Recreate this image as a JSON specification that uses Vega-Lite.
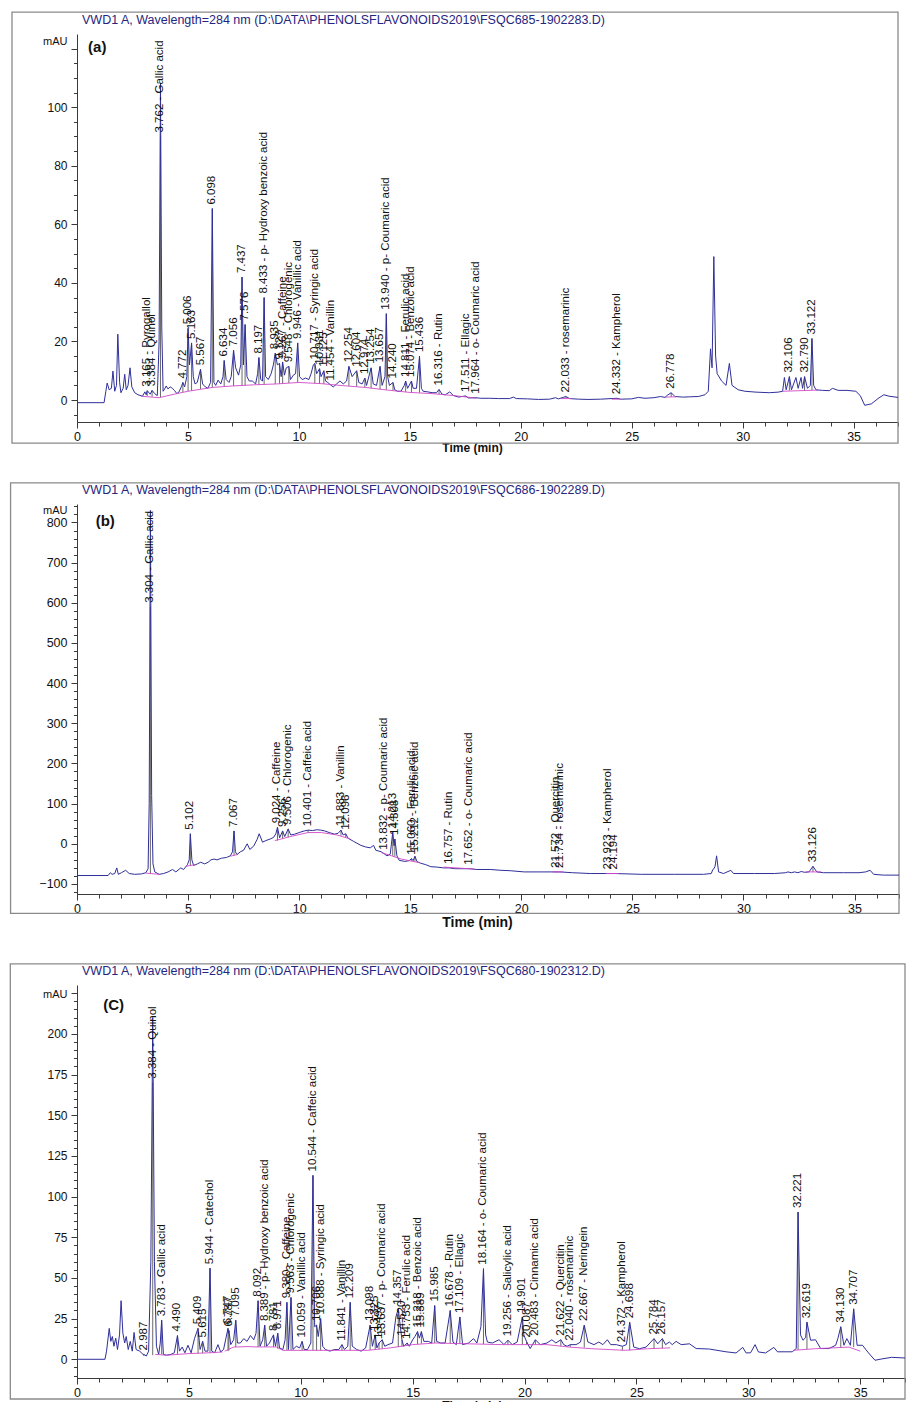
{
"$schema": "https://vega.github.io/schema/vega-lite/v6.json",
"background": "white",
"padding": {"top": 11, "left": 9, "right": 0, "bottom": 0},
"config": {"font": "Liberation Sans", "view": {"stroke": null},
  "axis": {"domainColor": "#3a3a3a", "tickColor": "#3a3a3a", "labelColor": "#111", "titleColor": "#111", "grid": false, "labelFont": "Liberation Sans", "titleFont": "Liberation Sans", "labelOverlap": false, "labelFlush": false}},
"datasets": {
"frameA": [{"x1": -2.93, "x2": 37, "y1": -14.7, "y2": 132.5}],
"frameB": [{"x1": -2.99, "x2": 37, "y1": -173.4, "y2": 898.8}],
"frameC": [{"x1": -2.98, "x2": 37, "y1": -24.4, "y2": 243}],
"traceA": [
{"t":0,"v":-0.9},{"t":1.22,"v":-0.9},{"t":1.3,"v":3},{"t":1.36,"v":5.8},{"t":1.45,"v":3.5},{"t":1.55,"v":4},{"t":1.62,"v":9.9},{"t":1.7,"v":3},{"t":1.78,"v":5},{"t":1.84,"v":22.5},{"t":1.92,"v":6},{"t":1.98,"v":2.5},{"t":2.08,"v":4},{"t":2.15,"v":8.8},{"t":2.22,"v":3.5},{"t":2.3,"v":5},{"t":2.39,"v":11},{"t":2.47,"v":4.5},{"t":2.6,"v":2.5},{"t":2.75,"v":1.8},{"t":2.95,"v":1.3},{"t":3.06,"v":2.8},{"t":3.12,"v":1.8},{"t":3.165,"v":3.2},{"t":3.3,"v":2},{"t":3.384,"v":3.3},{"t":3.5,"v":2.2},{"t":3.62,"v":1.5},{"t":3.7,"v":20},{"t":3.762,"v":108},{"t":3.82,"v":25},{"t":3.88,"v":3},{"t":3.95,"v":3.8},{"t":4.02,"v":4.8},{"t":4.1,"v":3.8},{"t":4.2,"v":4.5},{"t":4.3,"v":4},{"t":4.4,"v":3.2},{"t":4.5,"v":2.2},{"t":4.6,"v":2.8},{"t":4.7,"v":4.5},{"t":4.772,"v":6},{"t":4.85,"v":4.5},{"t":4.95,"v":8},{"t":5.006,"v":24.5},{"t":5.07,"v":12},{"t":5.163,"v":19.5},{"t":5.24,"v":8},{"t":5.32,"v":5.5},{"t":5.42,"v":6},{"t":5.567,"v":10.5},{"t":5.66,"v":5.5},{"t":5.78,"v":4.5},{"t":5.9,"v":4},{"t":6.02,"v":6},{"t":6.098,"v":65.4},{"t":6.17,"v":6},{"t":6.25,"v":5},{"t":6.36,"v":6.8},{"t":6.48,"v":5.5},{"t":6.58,"v":8},{"t":6.634,"v":13.5},{"t":6.72,"v":7},{"t":6.85,"v":6},{"t":6.95,"v":8},{"t":7.056,"v":17},{"t":7.15,"v":11},{"t":7.28,"v":8.5},{"t":7.38,"v":12},{"t":7.437,"v":42},{"t":7.5,"v":12},{"t":7.576,"v":25.8},{"t":7.66,"v":8},{"t":7.76,"v":6.5},{"t":7.9,"v":6.5},{"t":8.05,"v":5.5},{"t":8.14,"v":9},{"t":8.197,"v":14.5},{"t":8.28,"v":7},{"t":8.36,"v":6.5},{"t":8.433,"v":35},{"t":8.5,"v":8},{"t":8.62,"v":7},{"t":8.75,"v":9},{"t":8.85,"v":12},{"t":8.935,"v":16},{"t":9.03,"v":12},{"t":9.127,"v":12.5},{"t":9.2,"v":8},{"t":9.267,"v":13},{"t":9.35,"v":8.5},{"t":9.43,"v":11},{"t":9.548,"v":11.5},{"t":9.62,"v":7},{"t":9.75,"v":8.5},{"t":9.85,"v":9},{"t":9.946,"v":19.5},{"t":10.03,"v":8},{"t":10.15,"v":7},{"t":10.3,"v":7.5},{"t":10.45,"v":7},{"t":10.55,"v":9},{"t":10.65,"v":12},{"t":10.717,"v":12.5},{"t":10.8,"v":9},{"t":10.931,"v":10.7},{"t":11.0,"v":8},{"t":11.125,"v":10},{"t":11.2,"v":6.5},{"t":11.3,"v":6},{"t":11.454,"v":5},{"t":11.55,"v":4.5},{"t":11.7,"v":5.5},{"t":11.85,"v":6.5},{"t":12.0,"v":5.5},{"t":12.15,"v":6.5},{"t":12.254,"v":11.5},{"t":12.4,"v":8},{"t":12.604,"v":10},{"t":12.7,"v":6},{"t":12.85,"v":5.5},{"t":12.974,"v":7.5},{"t":13.05,"v":5},{"t":13.254,"v":11},{"t":13.35,"v":5.5},{"t":13.5,"v":5},{"t":13.657,"v":11.5},{"t":13.75,"v":5},{"t":13.88,"v":8},{"t":13.94,"v":29.5},{"t":14.0,"v":8},{"t":14.08,"v":5},{"t":14.24,"v":6},{"t":14.32,"v":3.5},{"t":14.45,"v":3},{"t":14.6,"v":3},{"t":14.75,"v":5},{"t":14.811,"v":6.5},{"t":14.9,"v":4},{"t":15.074,"v":6.5},{"t":15.15,"v":4},{"t":15.3,"v":4},{"t":15.436,"v":15},{"t":15.52,"v":4},{"t":15.6,"v":3},{"t":15.8,"v":2.8},{"t":16.0,"v":2.5},{"t":16.2,"v":2.5},{"t":16.316,"v":3.6},{"t":16.45,"v":2},{"t":16.6,"v":1.8},{"t":16.8,"v":2.8},{"t":16.95,"v":1.6},{"t":17.2,"v":1},{"t":17.511,"v":1.4},{"t":17.65,"v":0.7},{"t":17.964,"v":0.8},{"t":18.2,"v":0.6},{"t":18.6,"v":0.6},{"t":19.0,"v":0.5},{"t":19.5,"v":0.5},{"t":19.66,"v":1},{"t":19.8,"v":0.5},{"t":20.3,"v":0.4},{"t":20.8,"v":0.2},{"t":21.3,"v":0.3},{"t":21.56,"v":0.8},{"t":21.7,"v":0.4},{"t":22.033,"v":1.2},{"t":22.2,"v":0.5},{"t":22.6,"v":0.3},{"t":23.07,"v":0.2},{"t":23.6,"v":0.3},{"t":24.332,"v":0.6},{"t":24.5,"v":0.3},{"t":25.0,"v":0.4},{"t":25.3,"v":0.9},{"t":25.6,"v":0.6},{"t":26.0,"v":0.8},{"t":26.3,"v":1.2},{"t":26.5,"v":0.9},{"t":26.6,"v":1.6},{"t":26.778,"v":2.5},{"t":26.95,"v":1.2},{"t":27.3,"v":1},{"t":27.6,"v":1.1},{"t":28.0,"v":1.2},{"t":28.3,"v":1.8},{"t":28.45,"v":3},{"t":28.55,"v":17.5},{"t":28.62,"v":11},{"t":28.7,"v":49},{"t":28.78,"v":15},{"t":28.85,"v":9},{"t":29.05,"v":6.5},{"t":29.25,"v":5},{"t":29.4,"v":12.5},{"t":29.52,"v":5},{"t":29.8,"v":3.5},{"t":30.1,"v":3},{"t":30.6,"v":2.7},{"t":31.2,"v":2.5},{"t":31.6,"v":2.7},{"t":31.8,"v":3},{"t":31.88,"v":7.7},{"t":31.96,"v":3.5},{"t":32.106,"v":8},{"t":32.2,"v":3.5},{"t":32.4,"v":7.7},{"t":32.5,"v":4},{"t":32.63,"v":7.7},{"t":32.7,"v":4},{"t":32.79,"v":8},{"t":32.92,"v":4},{"t":33.05,"v":5},{"t":33.122,"v":21},{"t":33.2,"v":5},{"t":33.3,"v":3.5},{"t":33.6,"v":3.3},{"t":33.9,"v":3.2},{"t":34.05,"v":4},{"t":34.3,"v":3.3},{"t":34.7,"v":3.3},{"t":35.1,"v":3},{"t":35.3,"v":1.5},{"t":35.5,"v":-1.8},{"t":35.8,"v":-1.3},{"t":36.1,"v":0.5},{"t":36.36,"v":1.8},{"t":36.6,"v":1.3},{"t":37.0,"v":0.9}
],
"baseA": [
{"seg":1,"t":2.9,"v":1.3},{"seg":1,"t":3.7,"v":0.8},
{"seg":2,"t":3.7,"v":0.8},{"seg":2,"t":4.5,"v":2.2},{"seg":2,"t":5.0,"v":3.0},{"seg":2,"t":6.1,"v":4.3},{"seg":2,"t":7.0,"v":4.8},{"seg":2,"t":8.0,"v":5.2},{"seg":2,"t":9.0,"v":5.5},{"seg":2,"t":10.0,"v":6.0},{"seg":2,"t":11.0,"v":5.6},{"seg":2,"t":12.0,"v":4.9},{"seg":2,"t":13.0,"v":4.3},{"seg":2,"t":14.0,"v":3.4},{"seg":2,"t":15.0,"v":2.6},{"seg":2,"t":16.0,"v":2.2},{"seg":2,"t":17.0,"v":1.5},{"seg":2,"t":17.6,"v":1.0},{"seg":2,"t":18.0,"v":0.6},
{"seg":3,"t":21.8,"v":0.5},{"seg":3,"t":22.3,"v":0.5},
{"seg":4,"t":24.1,"v":0.3},{"seg":4,"t":24.5,"v":0.3},
{"seg":5,"t":26.5,"v":1.0},{"seg":5,"t":27.0,"v":1.1},
{"seg":6,"t":31.8,"v":3.0},{"seg":6,"t":33.4,"v":3.4}
],
"labA": [
{"t":3.165,"y":3.2,"b":1.4,"text":"3.165 -  Pyrogallol"},
{"t":3.384,"y":3.3,"b":1.2,"text":"3.384 -  Quinol"},
{"t":3.762,"y":90,"b":1.0,"text":"3.762 -  Gallic acid"},
{"t":4.772,"y":6,"b":2.7,"text":"4.772"},
{"t":5.006,"y":24.5,"b":3.0,"text":"5.006"},
{"t":5.163,"y":19.5,"b":3.2,"text":"5.163"},
{"t":5.567,"y":10.5,"b":3.8,"text":"5.567"},
{"t":6.098,"y":65.4,"b":4.3,"text":"6.098"},
{"t":6.634,"y":13.5,"b":4.6,"text":"6.634"},
{"t":7.056,"y":17,"b":4.8,"text":"7.056"},
{"t":7.437,"y":42,"b":5,"text":"7.437"},
{"t":7.576,"y":25.8,"b":5,"text":"7.576"},
{"t":8.197,"y":14.5,"b":5.2,"text":"8.197"},
{"t":8.433,"y":35,"b":5.3,"text":"8.433 -  p- Hydroxy benzoic acid"},
{"t":8.935,"y":16,"b":5.5,"text":"8.935"},
{"t":9.127,"y":12.5,"b":5.6,"text":"9.127"},
{"t":9.267,"y":13,"b":5.7,"text":"9.267 -  Caffeine"},
{"t":9.548,"y":11.5,"b":5.8,"text":"9.548 -  Chlorogenic"},
{"t":9.946,"y":19.5,"b":6,"text":"9.946 -  Vanillic acid"},
{"t":10.717,"y":12.5,"b":5.7,"text":"10.717 -  Syringic acid"},
{"t":10.931,"y":10.7,"b":5.6,"text":"10.931"},
{"t":11.125,"y":10,"b":5.5,"text":"11.125"},
{"t":11.454,"y":5.3,"b":5.3,"text":"11.454 -  Vanillin"},
{"t":12.254,"y":11.5,"b":4.8,"text":"12.254"},
{"t":12.604,"y":10,"b":4.6,"text":"12.604"},
{"t":12.974,"y":7.5,"b":4.3,"text":"12.974"},
{"t":13.254,"y":11,"b":4,"text":"13.254"},
{"t":13.657,"y":11.5,"b":3.7,"text":"13.657"},
{"t":13.94,"y":29.5,"b":3.5,"text":"13.940 -  p- Coumaric acid"},
{"t":14.24,"y":6,"b":3.2,"text":"14.240"},
{"t":14.811,"y":6.5,"b":2.8,"text":"14.811 -  Ferulic acid"},
{"t":15.074,"y":6.5,"b":2.6,"text":"15.074 -  Benzoic acid"},
{"t":15.436,"y":15,"b":2.5,"text":"15.436"},
{"t":16.316,"y":3.6,"b":2,"text":"16.316 -  Rutin"},
{"t":17.511,"y":1.4,"b":1.1,"text":"17.511 -  Ellagic"},
{"t":17.964,"y":0.8,"b":0.6,"text":"17.964 -  o- Coumaric acid"},
{"t":22.033,"y":1.2,"b":0.5,"text":"22.033 -  rosemarinic"},
{"t":24.332,"y":0.6,"b":0.3,"text":"24.332 -  Kampherol"},
{"t":26.778,"y":2.5,"b":1.1,"text":"26.778"},
{"t":32.106,"y":8,"b":3.2,"text":"32.106"},
{"t":32.79,"y":8,"b":3.3,"text":"32.790"},
{"t":33.122,"y":21,"b":3.4,"text":"33.122"}
],
"tagA": [{"t":0.5,"y":120.5,"text":"(a)"}],
"traceB": [
{"t":0,"v":-79},{"t":1.4,"v":-79},{"t":1.5,"v":-72},{"t":1.58,"v":-76},{"t":1.7,"v":-74},{"t":1.79,"v":-60},{"t":1.86,"v":-76},{"t":2.0,"v":-72},{"t":2.19,"v":-66},{"t":2.35,"v":-74},{"t":2.6,"v":-76},{"t":2.9,"v":-75},{"t":3.1,"v":-72},{"t":3.2,"v":-62},{"t":3.25,"v":100},{"t":3.304,"v":830},{"t":3.36,"v":120},{"t":3.42,"v":-50},{"t":3.5,"v":-70},{"t":3.7,"v":-76},{"t":3.9,"v":-74},{"t":4.1,"v":-70},{"t":4.3,"v":-64},{"t":4.45,"v":-70},{"t":4.67,"v":-60},{"t":4.8,"v":-64},{"t":4.97,"v":-52},{"t":5.05,"v":-40},{"t":5.102,"v":25},{"t":5.17,"v":-40},{"t":5.25,"v":-54},{"t":5.42,"v":-50},{"t":5.57,"v":-46},{"t":5.75,"v":-50},{"t":5.9,"v":-46},{"t":6.03,"v":-40},{"t":6.17,"v":-38},{"t":6.3,"v":-40},{"t":6.5,"v":-36},{"t":6.73,"v":-34},{"t":6.9,"v":-30},{"t":7.0,"v":-20},{"t":7.067,"v":32},{"t":7.13,"v":-20},{"t":7.2,"v":-27},{"t":7.35,"v":-20},{"t":7.5,"v":-16},{"t":7.66,"v":0},{"t":7.78,"v":-14},{"t":7.95,"v":-6},{"t":8.1,"v":10},{"t":8.2,"v":25},{"t":8.35,"v":4},{"t":8.5,"v":8},{"t":8.7,"v":12},{"t":8.85,"v":16},{"t":8.95,"v":25},{"t":9.024,"v":41},{"t":9.12,"v":15},{"t":9.256,"v":32},{"t":9.35,"v":18},{"t":9.506,"v":37},{"t":9.62,"v":22},{"t":9.8,"v":24},{"t":10.0,"v":28},{"t":10.23,"v":32},{"t":10.401,"v":34},{"t":10.6,"v":33},{"t":10.8,"v":35},{"t":10.97,"v":34},{"t":11.15,"v":32},{"t":11.35,"v":28},{"t":11.6,"v":24},{"t":11.75,"v":26},{"t":11.883,"v":34},{"t":11.98,"v":22},{"t":12.096,"v":25},{"t":12.2,"v":14},{"t":12.45,"v":6},{"t":12.78,"v":-4},{"t":13.0,"v":-8},{"t":13.2,"v":-10},{"t":13.35,"v":-4},{"t":13.45,"v":-16},{"t":13.7,"v":-20},{"t":13.832,"v":-25},{"t":13.95,"v":-30},{"t":14.1,"v":-26},{"t":14.213,"v":29},{"t":14.27,"v":-5},{"t":14.308,"v":12},{"t":14.4,"v":-30},{"t":14.5,"v":-41},{"t":14.75,"v":-44},{"t":14.95,"v":-42},{"t":15.06,"v":-37},{"t":15.13,"v":-42},{"t":15.212,"v":-31},{"t":15.3,"v":-44},{"t":15.45,"v":-48},{"t":15.7,"v":-52},{"t":15.93,"v":-57},{"t":16.2,"v":-58},{"t":16.5,"v":-60},{"t":16.757,"v":-60},{"t":17.0,"v":-62},{"t":17.3,"v":-62},{"t":17.652,"v":-62},{"t":18.0,"v":-64},{"t":18.6,"v":-64},{"t":19.08,"v":-66},{"t":19.5,"v":-67},{"t":20.13,"v":-70},{"t":20.8,"v":-70},{"t":21.572,"v":-70},{"t":21.734,"v":-70},{"t":22.3,"v":-72},{"t":23.1,"v":-74},{"t":23.923,"v":-74},{"t":24.194,"v":-74},{"t":25.4,"v":-76},{"t":26.9,"v":-76},{"t":28.2,"v":-76},{"t":28.55,"v":-74},{"t":28.62,"v":-64},{"t":28.67,"v":-62},{"t":28.72,"v":-56},{"t":28.79,"v":-30},{"t":28.88,"v":-70},{"t":29.1,"v":-74},{"t":29.35,"v":-68},{"t":29.43,"v":-66},{"t":29.55,"v":-74},{"t":30.5,"v":-74},{"t":31.4,"v":-74},{"t":31.9,"v":-72},{"t":32.0,"v":-70},{"t":32.15,"v":-72},{"t":32.3,"v":-70},{"t":32.45,"v":-72},{"t":32.6,"v":-69},{"t":32.75,"v":-71},{"t":32.95,"v":-70},{"t":33.126,"v":-56},{"t":33.3,"v":-70},{"t":33.6,"v":-72},{"t":34.5,"v":-72},{"t":35.2,"v":-72},{"t":35.5,"v":-70},{"t":35.7,"v":-66},{"t":35.86,"v":-76},{"t":36.3,"v":-78},{"t":37.0,"v":-78}
],
"baseB": [
{"seg":1,"t":3.1,"v":-73},{"seg":1,"t":3.7,"v":-76},
{"seg":2,"t":4.9,"v":-56},{"seg":2,"t":5.3,"v":-52},
{"seg":3,"t":6.9,"v":-31},{"seg":3,"t":7.2,"v":-27},
{"seg":4,"t":8.9,"v":8},{"seg":4,"t":9.2,"v":12},{"seg":4,"t":9.6,"v":18},{"seg":4,"t":10.4,"v":28},{"seg":4,"t":11.0,"v":28},{"seg":4,"t":11.7,"v":22},{"seg":4,"t":12.3,"v":12},
{"seg":5,"t":13.7,"v":-22},{"seg":5,"t":14.0,"v":-27},{"seg":5,"t":14.6,"v":-38},{"seg":5,"t":15.4,"v":-47},
{"seg":6,"t":16.5,"v":-58},{"seg":6,"t":17.9,"v":-63},
{"seg":7,"t":21.4,"v":-70},{"seg":7,"t":21.9,"v":-70},
{"seg":8,"t":23.8,"v":-74},{"seg":8,"t":24.4,"v":-74},
{"seg":9,"t":32.8,"v":-70},{"seg":9,"t":33.5,"v":-70}
],
"labB": [
{"t":3.304,"y":590,"b":-75,"text":"3.304 -  Gallic acid"},
{"t":5.102,"y":25,"b":-54,"text":"5.102"},
{"t":7.067,"y":32,"b":-29,"text":"7.067"},
{"t":9.024,"y":41,"b":8,"text":"9.024 -  Caffeine"},
{"t":9.256,"y":32,"b":12,"text":"9.256"},
{"t":9.506,"y":37,"b":16,"text":"9.506 -  Chlorogenic"},
{"t":10.401,"y":34,"b":28,"text":"10.401 -  Caffeic acid"},
{"t":11.883,"y":34,"b":20,"text":"11.883 -  Vanillin"},
{"t":12.096,"y":25,"b":16,"text":"12.096"},
{"t":13.832,"y":-25,"b":-24,"text":"13.832 -  p- Coumaric acid"},
{"t":14.213,"y":29,"b":-30,"text":"14.213"},
{"t":14.308,"y":12,"b":-32,"text":"14.308"},
{"t":15.06,"y":-37,"b":-42,"text":"15.060 -  Ferulic acid"},
{"t":15.212,"y":-31,"b":-44,"text":"15.212 -  Benzoic acid"},
{"t":16.757,"y":-60,"b":-60,"text":"16.757 -  Rutin"},
{"t":17.652,"y":-62,"b":-63,"text":"17.652 -  o- Coumaric acid"},
{"t":21.572,"y":-70,"b":-71,"text":"21.572 -  Quercitin"},
{"t":21.734,"y":-70,"b":-71,"text":"21.734 -  rosemarinic"},
{"t":23.923,"y":-74,"b":-75,"text":"23.923 -  Kampherol"},
{"t":24.194,"y":-74,"b":-75,"text":"24.194"},
{"t":33.126,"y":-56,"b":-70,"text":"33.126"}
],
"tagB": [{"t":0.84,"y":804,"text":"(b)"}],
"traceC": [
{"t":0,"v":0},{"t":1.25,"v":0},{"t":1.32,"v":5},{"t":1.44,"v":19},{"t":1.51,"v":11},{"t":1.58,"v":14},{"t":1.65,"v":8},{"t":1.73,"v":13},{"t":1.81,"v":6},{"t":1.9,"v":15},{"t":1.97,"v":36},{"t":2.05,"v":16},{"t":2.13,"v":10},{"t":2.2,"v":14},{"t":2.29,"v":6},{"t":2.38,"v":11},{"t":2.47,"v":5},{"t":2.55,"v":16.5},{"t":2.64,"v":6},{"t":2.8,"v":5},{"t":2.95,"v":3},{"t":2.987,"v":3},{"t":3.1,"v":2},{"t":3.2,"v":5},{"t":3.3,"v":60},{"t":3.384,"v":210},{"t":3.46,"v":60},{"t":3.55,"v":8},{"t":3.65,"v":3},{"t":3.72,"v":10},{"t":3.783,"v":24},{"t":3.86,"v":3},{"t":4.0,"v":2.5},{"t":4.2,"v":3},{"t":4.35,"v":4},{"t":4.49,"v":14.6},{"t":4.58,"v":5},{"t":4.7,"v":7.5},{"t":4.82,"v":4},{"t":4.96,"v":8.6},{"t":5.1,"v":4},{"t":5.25,"v":12.7},{"t":5.409,"v":19},{"t":5.5,"v":6},{"t":5.615,"v":11},{"t":5.72,"v":5},{"t":5.85,"v":5},{"t":5.944,"v":56},{"t":6.02,"v":5},{"t":6.15,"v":4},{"t":6.3,"v":9},{"t":6.42,"v":4.5},{"t":6.55,"v":6},{"t":6.747,"v":19},{"t":6.77,"v":16},{"t":6.787,"v":17.7},{"t":6.87,"v":9},{"t":7.0,"v":12},{"t":7.095,"v":24},{"t":7.17,"v":10},{"t":7.3,"v":10},{"t":7.45,"v":12.7},{"t":7.6,"v":11},{"t":7.75,"v":14.6},{"t":7.9,"v":12},{"t":8.0,"v":16},{"t":8.092,"v":36},{"t":8.18,"v":8},{"t":8.3,"v":12},{"t":8.389,"v":21},{"t":8.47,"v":8},{"t":8.6,"v":10},{"t":8.781,"v":15},{"t":8.87,"v":8},{"t":8.971,"v":16},{"t":9.05,"v":7},{"t":9.2,"v":6},{"t":9.3,"v":12},{"t":9.38,"v":35},{"t":9.45,"v":6},{"t":9.563,"v":38},{"t":9.65,"v":6},{"t":9.8,"v":8},{"t":9.95,"v":7},{"t":10.059,"v":11},{"t":10.15,"v":6},{"t":10.3,"v":6},{"t":10.45,"v":10},{"t":10.544,"v":113},{"t":10.62,"v":20},{"t":10.706,"v":21},{"t":10.78,"v":14},{"t":10.888,"v":25},{"t":10.98,"v":8},{"t":11.1,"v":6},{"t":11.3,"v":5},{"t":11.5,"v":6},{"t":11.7,"v":6},{"t":11.841,"v":9},{"t":11.95,"v":6},{"t":12.1,"v":8},{"t":12.209,"v":35},{"t":12.3,"v":8},{"t":12.5,"v":6},{"t":12.7,"v":5},{"t":12.9,"v":7},{"t":13.098,"v":21},{"t":13.2,"v":8},{"t":13.325,"v":15},{"t":13.4,"v":7},{"t":13.497,"v":10},{"t":13.637,"v":12},{"t":13.75,"v":8},{"t":13.9,"v":9},{"t":14.1,"v":10},{"t":14.25,"v":26},{"t":14.357,"v":31},{"t":14.45,"v":20},{"t":14.52,"v":12},{"t":14.6,"v":8},{"t":14.753,"v":10},{"t":14.85,"v":8},{"t":15.0,"v":12},{"t":15.1,"v":14},{"t":15.218,"v":17},{"t":15.3,"v":13},{"t":15.389,"v":17},{"t":15.5,"v":11},{"t":15.7,"v":11},{"t":15.85,"v":10},{"t":15.985,"v":33},{"t":16.07,"v":11},{"t":16.25,"v":10},{"t":16.45,"v":10},{"t":16.678,"v":30},{"t":16.8,"v":10.6},{"t":16.95,"v":9},{"t":17.109,"v":26},{"t":17.23,"v":9},{"t":17.5,"v":10},{"t":17.72,"v":12.7},{"t":17.87,"v":10},{"t":18.05,"v":20},{"t":18.164,"v":55.7},{"t":18.26,"v":15},{"t":18.34,"v":10.6},{"t":18.56,"v":10},{"t":18.86,"v":12},{"t":19.08,"v":9},{"t":19.256,"v":11.7},{"t":19.45,"v":9},{"t":19.67,"v":10.6},{"t":19.901,"v":26},{"t":19.97,"v":14.8},{"t":20.087,"v":11},{"t":20.25,"v":6.6},{"t":20.483,"v":12},{"t":20.7,"v":9},{"t":21.0,"v":10},{"t":21.22,"v":12},{"t":21.4,"v":10},{"t":21.622,"v":12},{"t":21.75,"v":9},{"t":21.9,"v":8},{"t":22.04,"v":9},{"t":22.3,"v":9},{"t":22.5,"v":10.6},{"t":22.667,"v":21},{"t":22.83,"v":10.6},{"t":23.1,"v":9},{"t":23.32,"v":10.6},{"t":23.5,"v":9},{"t":23.7,"v":12},{"t":23.85,"v":9},{"t":24.1,"v":9},{"t":24.372,"v":8},{"t":24.55,"v":9},{"t":24.698,"v":22.7},{"t":24.88,"v":7.5},{"t":25.13,"v":6.5},{"t":25.43,"v":7.5},{"t":25.784,"v":12.7},{"t":25.95,"v":9.5},{"t":26.157,"v":12.7},{"t":26.3,"v":9},{"t":26.47,"v":10.6},{"t":26.6,"v":9},{"t":26.77,"v":11},{"t":27.0,"v":9},{"t":27.37,"v":9.5},{"t":27.67,"v":6.6},{"t":28.26,"v":6.3},{"t":29.0,"v":4.6},{"t":29.45,"v":3.9},{"t":29.75,"v":7.3},{"t":29.9,"v":3.9},{"t":30.1,"v":4},{"t":30.3,"v":9},{"t":30.45,"v":4.5},{"t":30.77,"v":3.9},{"t":31.14,"v":7.3},{"t":31.3,"v":4.6},{"t":31.96,"v":4.6},{"t":32.14,"v":6.6},{"t":32.221,"v":90.5},{"t":32.33,"v":15},{"t":32.44,"v":11.7},{"t":32.56,"v":13.3},{"t":32.619,"v":22.8},{"t":32.78,"v":11.7},{"t":33.0,"v":12},{"t":33.23,"v":6.6},{"t":33.6,"v":6.6},{"t":33.9,"v":8.6},{"t":34.0,"v":12.7},{"t":34.13,"v":20},{"t":34.27,"v":8.6},{"t":34.4,"v":12.7},{"t":34.56,"v":8.6},{"t":34.707,"v":31},{"t":34.86,"v":8.6},{"t":35.1,"v":8.6},{"t":35.37,"v":3.9},{"t":35.66,"v":-0.6},{"t":35.96,"v":0.2},{"t":36.4,"v":1.2},{"t":37.0,"v":0.8}
],
"baseC": [
{"seg":1,"t":3.5,"v":3},{"seg":1,"t":4.0,"v":2.5},{"seg":1,"t":5.0,"v":3.5},{"seg":1,"t":5.944,"v":4},{"seg":1,"t":6.5,"v":4.5},
{"seg":2,"t":6.6,"v":5},{"seg":2,"t":7.0,"v":7.5},{"seg":2,"t":7.6,"v":7.8},{"seg":2,"t":8.0,"v":7.6},{"seg":2,"t":8.9,"v":7.6},{"seg":2,"t":9.2,"v":5.5},{"seg":2,"t":13.0,"v":5.5},{"seg":2,"t":14.0,"v":7},{"seg":2,"t":15.0,"v":9},{"seg":2,"t":16.0,"v":10},{"seg":2,"t":17.5,"v":9.5},{"seg":2,"t":19.0,"v":9},{"seg":2,"t":21.0,"v":9},{"seg":2,"t":22.0,"v":7.5},{"seg":2,"t":23.0,"v":6.5},{"seg":2,"t":24.5,"v":5.5},{"seg":2,"t":25.5,"v":6.5},{"seg":2,"t":26.5,"v":7},
{"seg":3,"t":32.0,"v":5.5},{"seg":3,"t":33.0,"v":6.5},{"seg":3,"t":34.5,"v":7.5},{"seg":3,"t":35.0,"v":5}
],
"labC": [
{"t":2.987,"y":3,"b":2,"text":"2.987"},
{"t":3.384,"y":170,"b":2.5,"text":"3.384 -  Quinol"},
{"t":3.783,"y":24,"b":3,"text":"3.783 -  Gallic acid"},
{"t":4.49,"y":14.6,"b":3,"text":"4.490"},
{"t":5.409,"y":19,"b":3.5,"text":"5.409"},
{"t":5.615,"y":11,"b":3.8,"text":"5.615"},
{"t":5.944,"y":56,"b":4,"text":"5.944 -  Catechol"},
{"t":6.747,"y":19,"b":5,"text":"6.747"},
{"t":6.787,"y":17.7,"b":5.5,"text":"6.787"},
{"t":7.095,"y":24,"b":7.5,"text":"7.095"},
{"t":8.092,"y":36,"b":7.6,"text":"8.092"},
{"t":8.389,"y":21,"b":7.6,"text":"8.389 -  p- Hydroxy benzoic acid"},
{"t":8.781,"y":15,"b":7.6,"text":"8.781"},
{"t":8.971,"y":16,"b":6.5,"text":"8.971"},
{"t":9.38,"y":35,"b":5.5,"text":"9.380 -  Caffeine"},
{"t":9.563,"y":38,"b":5.5,"text":"9.563 -  Chlorogenic"},
{"t":10.059,"y":11,"b":5.5,"text":"10.059 -  Vanillic acid"},
{"t":10.544,"y":113,"b":5.5,"text":"10.544 -  Caffeic acid"},
{"t":10.706,"y":21,"b":5.5,"text":"10.706"},
{"t":10.888,"y":25,"b":5.5,"text":"10.888 -  Syringic acid"},
{"t":11.841,"y":9,"b":5.5,"text":"11.841 -  Vanillin"},
{"t":12.209,"y":35,"b":5.5,"text":"12.209"},
{"t":13.098,"y":21,"b":5.8,"text":"13.098"},
{"t":13.325,"y":15,"b":6,"text":"13.325"},
{"t":13.497,"y":10,"b":6.2,"text":"13.497"},
{"t":13.637,"y":12,"b":6.4,"text":"13.637 -  p- Coumaric acid"},
{"t":14.357,"y":31,"b":7.5,"text":"14.357"},
{"t":14.52,"y":12,"b":7.8,"text":"14.520"},
{"t":14.753,"y":10,"b":8.3,"text":"14.753 -  Ferulic acid"},
{"t":15.218,"y":17,"b":9.3,"text":"15.218 -  Benzoic acid"},
{"t":15.389,"y":17,"b":9.6,"text":"15.389"},
{"t":15.985,"y":33,"b":10,"text":"15.985"},
{"t":16.678,"y":30,"b":9.8,"text":"16.678 -  Rutin"},
{"t":17.109,"y":26,"b":9.7,"text":"17.109 -  Ellagic"},
{"t":18.164,"y":55.7,"b":9.3,"text":"18.164 -  o- Coumaric acid"},
{"t":19.256,"y":11.7,"b":9,"text":"19.256 -  Salicylic acid"},
{"t":19.901,"y":26,"b":9,"text":"19.901"},
{"t":20.087,"y":11,"b":9,"text":"20.087"},
{"t":20.483,"y":12,"b":9,"text":"20.483 -  Cinnamic acid"},
{"t":21.622,"y":12,"b":8,"text":"21.622 -  Quercitin"},
{"t":22.04,"y":9,"b":7.5,"text":"22.040 -  rosemarinic"},
{"t":22.667,"y":21,"b":7.2,"text":"22.667 -  Neringein"},
{"t":24.372,"y":8,"b":5.5,"text":"24.372 -  Kampherol"},
{"t":24.698,"y":22.7,"b":5.5,"text":"24.698"},
{"t":25.784,"y":12.7,"b":6.5,"text":"25.784"},
{"t":26.157,"y":12.7,"b":6.8,"text":"26.157"},
{"t":32.221,"y":90.5,"b":5.8,"text":"32.221"},
{"t":32.619,"y":22.8,"b":6.3,"text":"32.619"},
{"t":34.13,"y":20,"b":7.2,"text":"34.130"},
{"t":34.707,"y":31,"b":7.5,"text":"34.707"}
],
"tagC": [{"t":1.17,"y":218,"text":"(C)"}]
},
"spacing": 28,
"vconcat": [
{
 "width": 821, "height": 388,
 "title": {"text": "VWD1 A, Wavelength=284 nm (D:\\DATA\\PHENOLSFLAVONOIDS2019\\FSQC685-1902283.D)", "anchor": "start", "frame": "group", "dx": 5, "fontSize": 12.5, "fontWeight": "normal", "color": "#262680", "baseline": "bottom", "offset": -27.7},
 "resolve": {"axis": {"x": "independent", "y": "independent"}},
 "layer": [
  {"data": {"name": "frameA"}, "mark": {"type": "rect", "fill": null, "stroke": "#8a8a8a", "strokeWidth": 1.3},
   "encoding": {"x": {"field": "x1", "type": "quantitative", "axis": null}, "x2": {"field": "x2"}, "y": {"field": "y1", "type": "quantitative", "axis": null}, "y2": {"field": "y2"}}},
  {"data": {"name": "labA"}, "mark": {"type": "rule", "color": "#444", "strokeWidth": 0.8},
   "encoding": {
    "x": {"field": "t", "type": "quantitative", "scale": {"domain": [0, 37], "nice": false},
      "axis": {"orient": "bottom", "title": "Time (min)", "values": [0,5,10,15,20,25,30,35], "tickSize": 6, "labelOverlap": false, "labelFlush": false,
        "labelFontSize": 12.5, "labelPadding": 2, "titleFontSize": 12, "titleFontWeight": "bold", "titlePadding": 0, "titleX": 395}},
    "y": {"field": "b", "type": "quantitative", "scale": {"domain": [-7.5, 125], "nice": false, "zero": false},
      "axis": {"orient": "left", "title": "mAU", "values": [0,20,40,60,80,100,120], "labelExpr": "datum.value <= 100 ? datum.label : ''", "tickSize": 6, "labelOverlap": false, "labelFlush": false,
        "labelFontSize": 12, "labelPadding": 4, "titleAngle": 0, "titleAlign": "right", "titleBaseline": "middle", "titleX": -10, "titleY": 7, "titleFontSize": 11, "titleFontWeight": "normal"}},
    "y2": {"field": "y"}}},
  {"data": {"name": "traceA"}, "mark": {"type": "line", "color": "#2f2f9a", "strokeWidth": 1},
   "encoding": {
    "x": {"field": "t", "type": "quantitative", "axis": {"orient": "bottom", "title": null, "labels": false, "domain": false, "tickSize": 4, "values": [0,1,2,3,4,5,6,7,8,9,10,11,12,13,14,15,16,17,18,19,20,21,22,23,24,25,26,27,28,29,30,31,32,33,34,35,36,37]}},
    "y": {"field": "v", "type": "quantitative", "axis": {"orient": "left", "title": null, "labels": false, "domain": false, "tickSize": 3.5, "values": [-5,0,5,10,15,20,25,30,35,40,45,50,55,60,65,70,75,80,85,90,95,100,105,110,115,120]}}}},
  {"data": {"name": "baseA"}, "mark": {"type": "line", "color": "#d048c8", "strokeWidth": 0.9},
   "encoding": {"x": {"field": "t", "type": "quantitative", "axis": null}, "y": {"field": "v", "type": "quantitative", "axis": null}, "detail": {"field": "seg", "type": "nominal"}}},
  {"data": {"name": "labA"}, "mark": {"type": "text", "angle": 270, "align": "left", "baseline": "middle", "dx": 4, "fontSize": 11.5, "color": "#111"},
   "encoding": {"x": {"field": "t", "type": "quantitative", "axis": null}, "y": {"field": "y", "type": "quantitative", "axis": null}, "text": {"field": "text"}}},
  {"data": {"name": "tagA"}, "mark": {"type": "text", "align": "left", "baseline": "middle", "fontSize": 15, "fontWeight": "bold", "color": "#111"},
   "encoding": {"x": {"field": "t", "type": "quantitative", "axis": null}, "y": {"field": "y", "type": "quantitative", "axis": null}, "text": {"field": "text"}}}
 ]
},
{
"spacing": 33,
"vconcat": [
{
 "width": 822, "height": 390,
 "title": {"text": "VWD1 A, Wavelength=284 nm (D:\\DATA\\PHENOLSFLAVONOIDS2019\\FSQC686-1902289.D)", "anchor": "start", "frame": "group", "dx": 5, "fontSize": 12.5, "fontWeight": "normal", "color": "#262680", "baseline": "bottom", "offset": -27.7},
 "resolve": {"axis": {"x": "independent", "y": "independent"}},
 "layer": [
  {"data": {"name": "frameB"}, "mark": {"type": "rect", "fill": null, "stroke": "#8a8a8a", "strokeWidth": 1.3},
   "encoding": {"x": {"field": "x1", "type": "quantitative", "axis": null}, "x2": {"field": "x2"}, "y": {"field": "y1", "type": "quantitative", "axis": null}, "y2": {"field": "y2"}}},
  {"data": {"name": "labB"}, "mark": {"type": "rule", "color": "#444", "strokeWidth": 0.8},
   "encoding": {
    "x": {"field": "t", "type": "quantitative", "scale": {"domain": [0, 37], "nice": false},
      "axis": {"orient": "bottom", "title": "Time (min)", "values": [0,5,10,15,20,25,30,35], "tickSize": 6, "labelOverlap": false, "labelFlush": false,
        "labelFontSize": 12.5, "labelPadding": 2, "titleFontSize": 14, "titleFontWeight": "bold", "titlePadding": 1, "titleX": 400}},
    "y": {"field": "b", "type": "quantitative", "scale": {"domain": [-125, 846], "nice": false, "zero": false},
      "axis": {"orient": "left", "title": "mAU", "values": [-100,0,100,200,300,400,500,600,700,800], "tickSize": 6, "labelOverlap": false, "labelFlush": false,
        "labelFontSize": 12.5, "labelPadding": 4, "titleAngle": 0, "titleAlign": "right", "titleBaseline": "middle", "titleX": -10, "titleY": 6, "titleFontSize": 11, "titleFontWeight": "normal"}},
    "y2": {"field": "y"}}},
  {"data": {"name": "traceB"}, "mark": {"type": "line", "color": "#2f2f9a", "strokeWidth": 1},
   "encoding": {
    "x": {"field": "t", "type": "quantitative", "axis": {"orient": "bottom", "title": null, "labels": false, "domain": false, "tickSize": 4, "values": [0,1,2,3,4,5,6,7,8,9,10,11,12,13,14,15,16,17,18,19,20,21,22,23,24,25,26,27,28,29,30,31,32,33,34,35,36,37]}},
    "y": {"field": "v", "type": "quantitative", "axis": {"orient": "left", "title": null, "labels": false, "domain": false, "tickSize": 3.5, "values": [-120,-100,-80,-60,-40,-20,0,20,40,60,80,100,120,140,160,180,200,220,240,260,280,300,320,340,360,380,400,420,440,460,480,500,520,540,560,580,600,620,640,660,680,700,720,740,760,780,800,820,840]}}}},
  {"data": {"name": "baseB"}, "mark": {"type": "line", "color": "#d048c8", "strokeWidth": 0.9},
   "encoding": {"x": {"field": "t", "type": "quantitative", "axis": null}, "y": {"field": "v", "type": "quantitative", "axis": null}, "detail": {"field": "seg", "type": "nominal"}}},
  {"data": {"name": "labB"}, "mark": {"type": "text", "angle": 270, "align": "left", "baseline": "middle", "dx": 4, "fontSize": 11.5, "color": "#111"},
   "encoding": {"x": {"field": "t", "type": "quantitative", "axis": null}, "y": {"field": "y", "type": "quantitative", "axis": null}, "text": {"field": "text"}}},
  {"data": {"name": "tagB"}, "mark": {"type": "text", "align": "left", "baseline": "middle", "fontSize": 15, "fontWeight": "bold", "color": "#111"},
   "encoding": {"x": {"field": "t", "type": "quantitative", "axis": null}, "y": {"field": "y", "type": "quantitative", "axis": null}, "text": {"field": "text"}}}
 ]
},
{
 "width": 828, "height": 393,
 "title": {"text": "VWD1 A, Wavelength=284 nm (D:\\DATA\\PHENOLSFLAVONOIDS2019\\FSQC680-1902312.D)", "anchor": "start", "frame": "group", "dx": 5, "fontSize": 12.5, "fontWeight": "normal", "color": "#262680", "baseline": "bottom", "offset": -27.7},
 "resolve": {"axis": {"x": "independent", "y": "independent"}},
 "layer": [
  {"data": {"name": "frameC"}, "mark": {"type": "rect", "fill": null, "stroke": "#8a8a8a", "strokeWidth": 1.3},
   "encoding": {"x": {"field": "x1", "type": "quantitative", "axis": null}, "x2": {"field": "x2"}, "y": {"field": "y1", "type": "quantitative", "axis": null}, "y2": {"field": "y2"}}},
  {"data": {"name": "labC"}, "mark": {"type": "rule", "color": "#444", "strokeWidth": 0.8},
   "encoding": {
    "x": {"field": "t", "type": "quantitative", "scale": {"domain": [0, 37], "nice": false},
      "axis": {"orient": "bottom", "title": "Time (min)", "values": [0,5,10,15,20,25,30,35], "tickSize": 6, "labelOverlap": false, "labelFlush": false,
        "labelFontSize": 12.5, "labelPadding": 2, "titleFontSize": 12, "titleFontWeight": "bold", "titlePadding": 2, "titleX": 395}},
    "y": {"field": "b", "type": "quantitative", "scale": {"domain": [-11.5, 230], "nice": false, "zero": false},
      "axis": {"orient": "left", "title": "mAU", "values": [0,25,50,75,100,125,150,175,200,225], "labelExpr": "datum.value <= 200 ? datum.label : ''", "tickSize": 6, "labelOverlap": false, "labelFlush": false,
        "labelFontSize": 12, "labelPadding": 4, "titleAngle": 0, "titleAlign": "right", "titleBaseline": "middle", "titleX": -10, "titleY": 9, "titleFontSize": 11, "titleFontWeight": "normal"}},
    "y2": {"field": "y"}}},
  {"data": {"name": "traceC"}, "mark": {"type": "line", "color": "#2f2f9a", "strokeWidth": 1},
   "encoding": {
    "x": {"field": "t", "type": "quantitative", "axis": {"orient": "bottom", "title": null, "labels": false, "domain": false, "tickSize": 4, "values": [0,1,2,3,4,5,6,7,8,9,10,11,12,13,14,15,16,17,18,19,20,21,22,23,24,25,26,27,28,29,30,31,32,33,34,35,36,37]}},
    "y": {"field": "v", "type": "quantitative", "axis": {"orient": "left", "title": null, "labels": false, "domain": false, "tickSize": 3.5, "values": [-10,-5,0,5,10,15,20,25,30,35,40,45,50,55,60,65,70,75,80,85,90,95,100,105,110,115,120,125,130,135,140,145,150,155,160,165,170,175,180,185,190,195,200,205,210,215,220,225]}}}},
  {"data": {"name": "baseC"}, "mark": {"type": "line", "color": "#d048c8", "strokeWidth": 0.9},
   "encoding": {"x": {"field": "t", "type": "quantitative", "axis": null}, "y": {"field": "v", "type": "quantitative", "axis": null}, "detail": {"field": "seg", "type": "nominal"}}},
  {"data": {"name": "labC"}, "mark": {"type": "text", "angle": 270, "align": "left", "baseline": "middle", "dx": 4, "fontSize": 11.5, "color": "#111"},
   "encoding": {"x": {"field": "t", "type": "quantitative", "axis": null}, "y": {"field": "y", "type": "quantitative", "axis": null}, "text": {"field": "text"}}},
  {"data": {"name": "tagC"}, "mark": {"type": "text", "align": "left", "baseline": "middle", "fontSize": 15, "fontWeight": "bold", "color": "#111"},
   "encoding": {"x": {"field": "t", "type": "quantitative", "axis": null}, "y": {"field": "y", "type": "quantitative", "axis": null}, "text": {"field": "text"}}}
 ]
}
]
}
]
}
